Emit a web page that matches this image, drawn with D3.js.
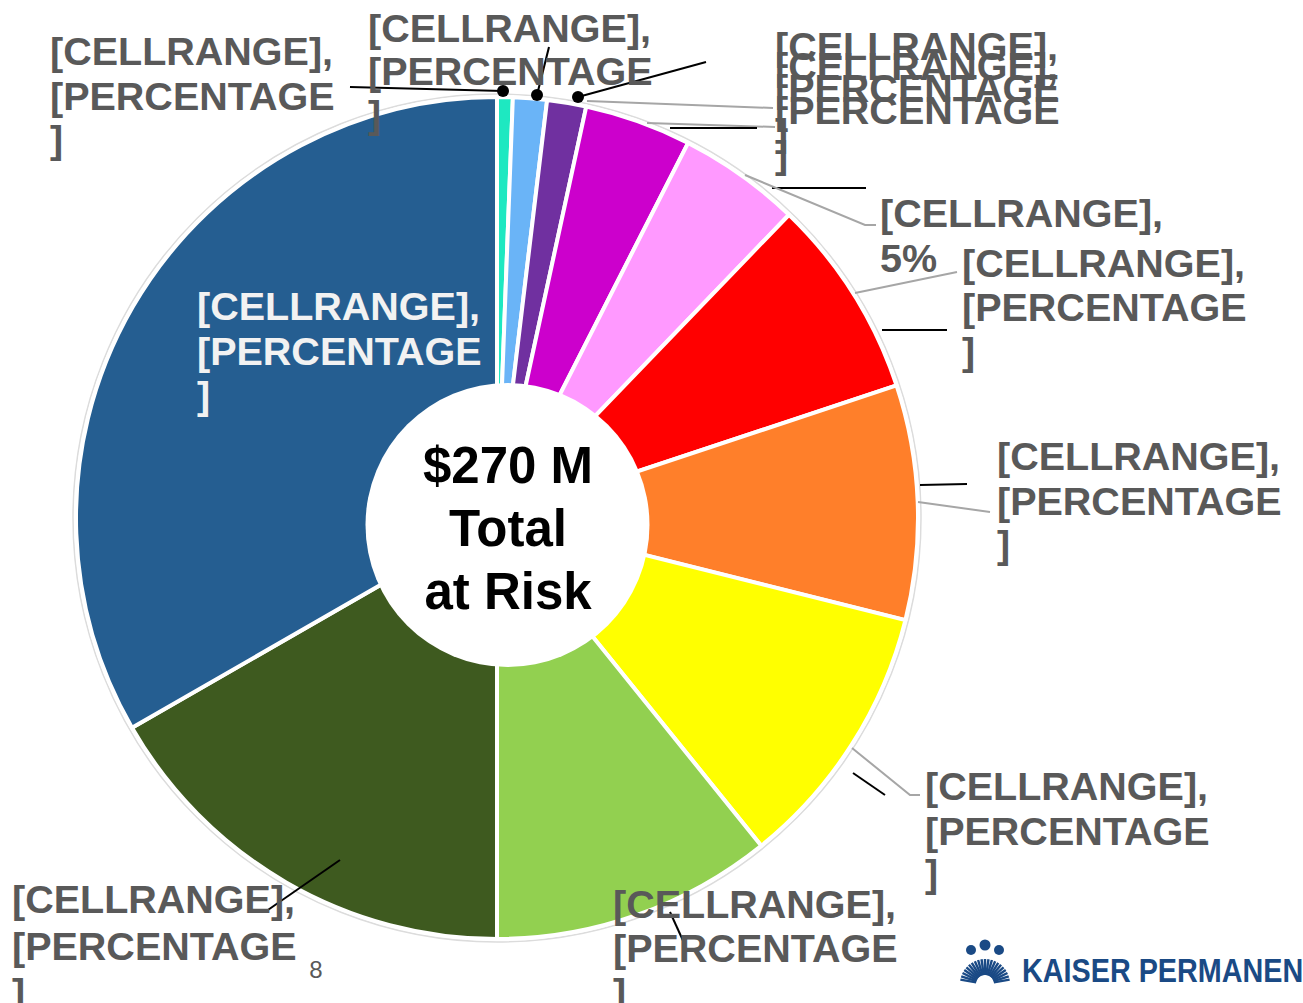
<!DOCTYPE html>
<html>
<head>
<meta charset="utf-8">
<script src="https://cdn.jsdelivr.net/npm/d3@7"></script>
<style>
  html, body { margin: 0; padding: 0; background: #ffffff; }
  svg { display: block; }
</style>
</head>
<body>
<svg id="chart" width="1303" height="1003"></svg>
<script>
// ---------------- DATA ----------------
const categories = ["S1", "S2", "S3", "S4", "S5", "S6", "S7", "S8", "S9", "S10", "S11"];
const values = [0.6, 1.3, 1.5, 4.1, 4.7, 7.7, 9.0, 10.3, 10.8, 16.7, 33.3];   // share of total, %
const labelLine1 = ["[CELLRANGE],", "[CELLRANGE],", "[CELLRANGE],", "[CELLRANGE],", "[CELLRANGE],", "[CELLRANGE],",
                    "[CELLRANGE],", "[CELLRANGE],", "[CELLRANGE],", "[CELLRANGE],", "[CELLRANGE],"];
const labelRest = [["[PERCENTAGE", "]"], ["[PERCENTAGE", "]"], ["[PERCENTAGE", "]"], ["[PERCENTAGE", "]"], ["5%"],
                   ["[PERCENTAGE", "]"], ["[PERCENTAGE", "]"], ["[PERCENTAGE", "]"], ["[PERCENTAGE", "]"],
                   ["[PERCENTAGE", "]"], ["[PERCENTAGE", "]"]];
const centerLines = ["$270 M", "Total", "at Risk"];
const pageNumber = "8";
const logoText = "KAISER PERMANENTE";

// ---------------- STYLE / LAYOUT ----------------
const colors = ["#1ee8c1", "#6ab4f7", "#7030a0", "#cc00cc", "#ff99ff", "#ff0000",
                "#ff7f2a", "#ffff00", "#92d050", "#3e5a1f", "#255e91"];
const cx = 497, cy = 518, R = 421;
const labelPos = [
  {x: 50,  y: [65, 110, 153]},
  {x: 368, y: [42, 85, 128]},
  {x: 775, y: [60, 102, 146]},
  {x: 775, y: [80, 124, 168]},
  {x: 880, y: [227, 272]},
  {x: 962, y: [277, 321, 365]},
  {x: 997, y: [470, 515, 558]},
  {x: 925, y: [800, 845, 887]},
  {x: 613, y: [918, 962, 1006]},
  {x: 12,  y: [913, 960, 1006]},
  {x: 197, y: [320, 365, 409]}
];
const labelColor = (i) => i === 10 ? "#f2f2f2" : "#595959";
const leaders = [
  {pts: [[350, 87], [503, 91]], c: "#000"},
  {pts: [[537, 95], [549, 47]], c: "#000"},
  {pts: [[578, 97], [706, 62]], c: "#000"},
  {pts: [[587, 101], [773, 108]], c: "#a6a6a6"},
  {pts: [[647, 123], [775, 127]], c: "#a6a6a6"},
  {pts: [[670, 128], [757, 128]], c: "#000"},
  {pts: [[772, 188], [866, 188]], c: "#000"},
  {pts: [[745, 175], [865, 225], [876, 225]], c: "#a6a6a6"},
  {pts: [[855, 293], [957, 272]], c: "#a6a6a6"},
  {pts: [[882, 330], [947, 330]], c: "#000"},
  {pts: [[920, 485], [967, 484]], c: "#000"},
  {pts: [[918, 502], [990, 512]], c: "#a6a6a6"},
  {pts: [[852, 748], [910, 795], [920, 795]], c: "#a6a6a6"},
  {pts: [[853, 773], [885, 795]], c: "#000"},
  {pts: [[670, 912], [685, 945]], c: "#000"},
  {pts: [[340, 860], [265, 912]], c: "#000"}
];
const dots = [[503, 91], [537, 95], [578, 97]];

const svg = d3.select("#chart");

// ---------------- PIE ----------------
const pie = d3.pie().sort(null).value(d => d);
const arc = d3.arc().innerRadius(0).outerRadius(R);
const arcs = pie(values);

svg.append("circle")
  .attr("cx", cx).attr("cy", cy).attr("r", R + 3)
  .attr("fill", "none").attr("stroke", "#dcdcdc").attr("stroke-width", 1.5);

const g = svg.append("g").attr("transform", `translate(${cx},${cy})`);
g.selectAll("path.slice")
  .data(arcs)
  .join("path")
  .attr("class", "slice")
  .attr("d", arc)
  .attr("fill", (d, i) => colors[i])
  .attr("stroke", "#ffffff")
  .attr("stroke-width", 4)
  .attr("stroke-linejoin", "round");

// center hole
svg.append("circle")
  .attr("cx", cx + 10.5).attr("cy", cy + 7).attr("r", 142)
  .attr("fill", "#ffffff");

svg.append("g").selectAll("text")
  .data(centerLines)
  .join("text")
  .attr("x", cx + 11)
  .attr("y", (d, i) => 483 + i * 63)
  .attr("text-anchor", "middle")
  .attr("font-family", "Liberation Sans, Arial, sans-serif")
  .attr("font-weight", "bold")
  .attr("font-size", 51)
  .attr("fill", "#000000")
  .text(d => d);

// ---------------- LEADERS ----------------
const line = d3.line();
svg.append("g").selectAll("path")
  .data(leaders)
  .join("path")
  .attr("d", d => line(d.pts))
  .attr("fill", "none")
  .attr("stroke", d => d.c)
  .attr("stroke-width", 2);

svg.append("g").selectAll("circle")
  .data(dots)
  .join("circle")
  .attr("cx", d => d[0]).attr("cy", d => d[1]).attr("r", 6)
  .attr("fill", "#000");

// ---------------- LABELS ----------------
const lg = svg.append("g")
  .attr("font-family", "Liberation Sans, Arial, sans-serif")
  .attr("font-weight", "bold")
  .attr("font-size", 39.5);
categories.forEach((c, i) => {
  const lines = [labelLine1[i]].concat(labelRest[i]);
  const t = lg.append("text").attr("fill", labelColor(i));
  lines.forEach((s, k) => {
    t.append("tspan")
      .attr("x", labelPos[i].x)
      .attr("y", labelPos[i].y[k])
      .text(s);
  });
});

// page number
svg.append("text")
  .attr("x", 316).attr("y", 978)
  .attr("text-anchor", "middle")
  .attr("font-family", "Liberation Sans Narrow, Arial Narrow, sans-serif")
  .attr("font-size", 24)
  .attr("fill", "#595959")
  .text(pageNumber);

// ---------------- LOGO ----------------
const logo = svg.append("g").attr("fill", "#1a4a85").attr("stroke", "#1a4a85");
const lcx = 985, lcy = 984;
d3.range(-80, 81, 8).forEach(a => {
  const rad = a * Math.PI / 180;
  logo.append("line")
    .attr("x1", lcx + 9 * Math.sin(rad)).attr("y1", lcy - 9 * Math.cos(rad))
    .attr("x2", lcx + 25 * Math.sin(rad)).attr("y2", lcy - 25 * Math.cos(rad))
    .attr("stroke-width", 2.4);
});
[[971, 950, 5], [985, 945, 5.5], [999, 950, 5]].forEach(h => {
  logo.append("circle").attr("cx", h[0]).attr("cy", h[1]).attr("r", h[2]).attr("stroke", "none");
});
svg.append("text")
  .attr("x", 1022).attr("y", 982)
  .attr("font-family", "Liberation Sans Narrow, Arial Narrow, sans-serif")
  .attr("font-size", 34)
  .attr("font-weight", "bold")
  .attr("textLength", 318)
  .attr("lengthAdjust", "spacingAndGlyphs")
  .attr("fill", "#1a4a85")
  .text(logoText);
</script>
</body>
</html>
